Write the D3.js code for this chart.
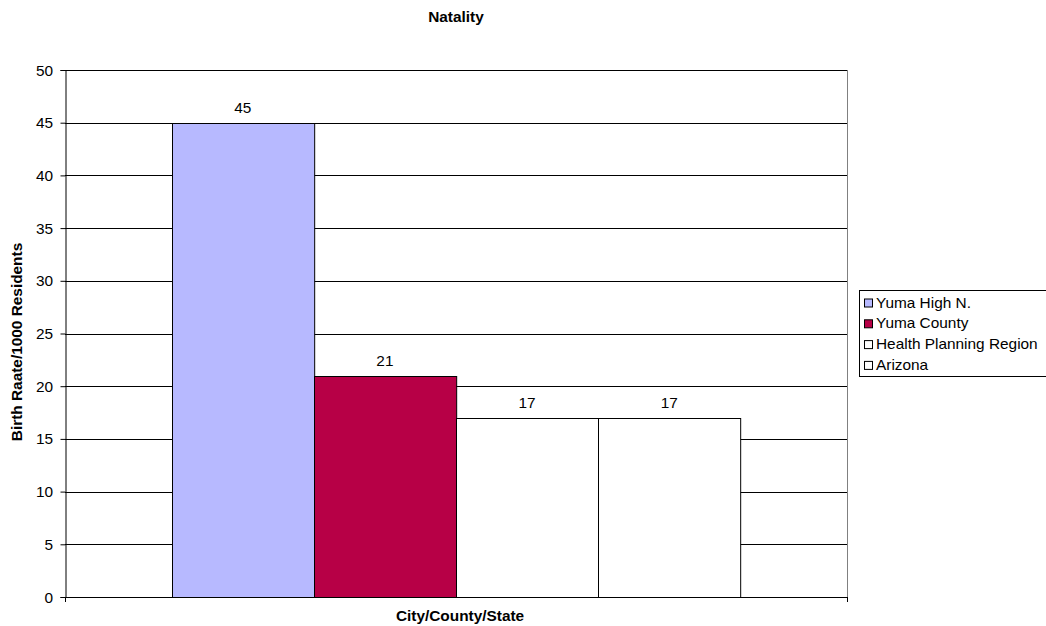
<!DOCTYPE html>
<html>
<head>
<meta charset="utf-8">
<script src="https://cdn.jsdelivr.net/npm/d3@7"></script>
<style>
  html, body { margin: 0; padding: 0; background: #fff; }
  svg { display: block; font-family: "Liberation Sans", Arial, sans-serif; }
</style>
</head>
<body>
<svg id="chart" width="1046" height="626"></svg>
<script>
// Natality: birth rate per 1000 residents
const seriesNames = ["Yuma High N.", "Yuma County", "Health Planning Region", "Arizona"];
const seriesValues = [45, 21, 17, 17];
const seriesColors = ["#B7B9FF", "#B70046", "#FFFFFF", "#FFFFFF"];
const yTicks = [0, 5, 10, 15, 20, 25, 30, 35, 40, 45, 50];
const category = ["City/County/State"];

const FONT = 14;      // base text size
const WIDEN = 1.1;    // wider glyph advance, as in GDI-hinted Arial

const svg = d3.select("#chart");
const plot = { left: 65, right: 847, top: 70, bottom: 597 };

const y = d3.scaleLinear().domain([0, 50]).range([plot.bottom, plot.top]);
// one category; Excel-style gap width of 150% around the series group
const xCat = d3.scaleBand().domain(category).range([plot.left, plot.right]);
const groupWidth = xCat.bandwidth() * 4 / (4 + 1.5);
const xSeries = d3.scaleBand().domain(seriesNames)
  .range([xCat(category[0]) + (xCat.bandwidth() - groupWidth) / 2,
          xCat(category[0]) + (xCat.bandwidth() + groupWidth) / 2]);

// places a text node at (x, y) with optional rotation, widened along its baseline
function placeText(sel, x, yy, rot) {
  return sel.attr("transform", `translate(${x},${yy})${rot ? ` rotate(${rot})` : ""} scale(${WIDEN},1)`);
}

// gridlines
svg.append("g").selectAll("line").data(yTicks.filter(d => d > 0)).join("line")
  .attr("x1", plot.left).attr("x2", plot.right)
  .attr("y1", d => Math.round(y(d)) + 0.5).attr("y2", d => Math.round(y(d)) + 0.5)
  .attr("stroke", "#000").attr("stroke-width", 1);

// right border of plot area
svg.append("line")
  .attr("x1", plot.right + 0.5).attr("x2", plot.right + 0.5)
  .attr("y1", plot.top).attr("y2", plot.bottom)
  .attr("stroke", "#808080").attr("stroke-width", 1);

// bars
svg.append("g").selectAll("rect").data(seriesValues).join("rect")
  .attr("x", (d, i) => Math.round(xSeries(seriesNames[i])) + 0.5)
  .attr("y", d => Math.round(y(d)) + 0.5)
  .attr("width", xSeries.bandwidth())
  .attr("height", d => plot.bottom - Math.round(y(d)))
  .attr("fill", (d, i) => seriesColors[i])
  .attr("stroke", "#000").attr("stroke-width", 1);

// value labels
svg.append("g").selectAll("text").data(seriesValues).join("text")
  .each(function (d, i) {
    placeText(d3.select(this), xSeries(seriesNames[i]) + xSeries.bandwidth() / 2, y(d) - 10);
  })
  .attr("text-anchor", "middle")
  .attr("font-size", FONT)
  .attr("fill", "#000")
  .text(d => d);

// y axis
const yAxis = d3.axisLeft(y).tickValues(yTicks).tickSize(5).tickPadding(7);
const gy = svg.append("g").attr("transform", `translate(${plot.left + 0.5},0)`).call(yAxis);
gy.select(".domain").attr("stroke", "#000");
gy.selectAll(".tick line").attr("stroke", "#000");
gy.selectAll(".tick text")
  .attr("x", null).attr("dy", "0.36em")
  .attr("transform", `translate(-12.5,0) scale(${WIDEN},1)`)
  .attr("font-size", FONT).attr("fill", "#000")
  .attr("font-family", "Liberation Sans, Arial, sans-serif");

// x axis with boundary tick marks
svg.append("line")
  .attr("x1", plot.left).attr("x2", plot.right + 1)
  .attr("y1", plot.bottom + 0.5).attr("y2", plot.bottom + 0.5)
  .attr("stroke", "#000");
svg.append("g").selectAll("line").data([plot.left, plot.right]).join("line")
  .attr("x1", d => d + 0.5).attr("x2", d => d + 0.5)
  .attr("y1", plot.bottom).attr("y2", plot.bottom + 5)
  .attr("stroke", "#000");

// titles
placeText(svg.append("text"), 456, 22)
  .attr("text-anchor", "middle").attr("font-size", FONT).attr("font-weight", "bold").text("Natality");
placeText(svg.append("text"), 460, 621)
  .attr("text-anchor", "middle").attr("font-size", FONT).attr("font-weight", "bold").text(category[0]);
placeText(svg.append("text"), 22, 342, -90)
  .attr("text-anchor", "middle").attr("font-size", FONT).attr("font-weight", "bold").text("Birth Raate/1000 Residents");

// legend
const legend = svg.append("g");
legend.append("rect").attr("x", 859.5).attr("y", 290.5).attr("width", 200).attr("height", 86)
  .attr("fill", "#fff").attr("stroke", "#000");
const items = legend.selectAll("g.item").data(seriesNames).join("g").attr("class", "item")
  .attr("transform", (d, i) => `translate(864,${302.5 + i * 20.8})`);
items.append("rect").attr("x", 0.5).attr("y", -3.5).attr("width", 8).attr("height", 8)
  .attr("fill", (d, i) => seriesColors[i]).attr("stroke", "#000");
items.append("text").each(function () { placeText(d3.select(this), 12, 5); })
  .attr("font-size", FONT).text(d => d);
</script>
</body>
</html>
